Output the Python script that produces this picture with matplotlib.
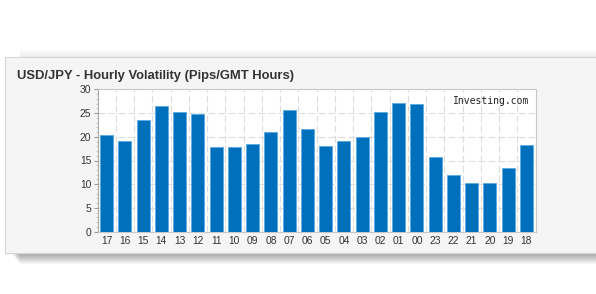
import matplotlib
matplotlib.use("Agg")
import matplotlib.pyplot as plt
from matplotlib.patches import Rectangle
import numpy as np

hours = ["17", "16", "15", "14", "13", "12", "11", "10", "09", "08", "07", "06",
         "05", "04", "03", "02", "01", "00", "23", "22", "21", "20", "19", "18"]
pips = [20.3, 19.2, 23.5, 26.4, 25.3, 24.9, 17.8, 17.8, 18.4, 20.9, 25.7, 21.6,
        18.0, 19.1, 19.9, 25.3, 27.2, 27.0, 15.7, 12.0, 10.3, 10.3, 13.4, 18.3]
yticks = [0, 5, 10, 15, 20, 25, 30]
title = "USD/JPY - Hourly Volatility (Pips/GMT Hours)"

W, H = 596, 294
fig = plt.figure(figsize=(W / 100, H / 100), dpi=100)
fig.patch.set_facecolor("white")

def fx(px):
    return px / W

def fy(py):
    return 1 - py / H

# card shadow below (blurred by stacking)
for i in range(12):
    off = i + 1
    fig.patches.append(Rectangle((fx(10 + off * 0.8), fy(252 + off)),
                                 fx(600) - fx(10 + off * 0.8),
                                 fy(70) - fy(252 + off), transform=fig.transFigure,
                                 facecolor="black", alpha=0.035, edgecolor="none", zorder=0))
# faint shadow above
for i in range(6):
    off = i + 1
    fig.patches.append(Rectangle((fx(20), fy(70)), fx(600) - fx(20),
                                 fy(57 - off * 1.2) - fy(70), transform=fig.transFigure,
                                 facecolor="black", alpha=0.012, edgecolor="none", zorder=0))
# card
fig.patches.append(Rectangle((fx(5), fy(253)), fx(600) - fx(5), fy(57) - fy(253),
                             transform=fig.transFigure, facecolor="#f5f5f5",
                             edgecolor="#d6d6d6", linewidth=0.8, zorder=1))

fig.text(fx(17), fy(76), title, fontsize=9.4, fontweight="bold", color="#333333",
         va="center", ha="left", family="Liberation Sans")

left, right, top, bottom = 97.5, 535.5, 89.3, 231.7
ax = fig.add_axes([fx(left), fy(bottom), fx(right) - fx(left), fy(top) - fy(bottom)])
ax.set_zorder(2)
ax.set_facecolor("white")

x = np.arange(len(hours))
ax.bar(x, pips, width=0.7, color="#0070bd", edgecolor="#5aa9e0", linewidth=0.6, zorder=3)
ax.set_xlim(-0.5, len(hours) - 0.5)
ax.set_ylim(0, 30)
ax.set_yticks(yticks)
ax.set_yticks(np.arange(0, 30.1, 1), minor=True)
ax.set_xticks(x)
ax.set_xticklabels(hours)

for yv in yticks[1:-1]:
    ax.axhline(yv, color="#dcdcdc", linestyle=(0, (6, 3)), linewidth=0.8, zorder=1)
for xv in np.arange(0.5, len(hours) - 1, 1):
    ax.axvline(xv, color="#dcdcdc", linestyle=(0, (6, 3)), linewidth=0.8, zorder=1)

for s in ax.spines.values():
    s.set_color("#c8c8c8")
    s.set_linewidth(0.8)
ax.spines["left"].set_color("#aaaaaa")

ax.tick_params(axis="x", which="both", length=0, labelsize=7.4, colors="#333333", pad=3)
ax.tick_params(axis="y", which="major", length=3, labelsize=7.4, colors="#333333",
               pad=1.5, color="#999999")
ax.tick_params(axis="y", which="minor", length=1.5, color="#bbbbbb")
for lab in ax.get_xticklabels() + ax.get_yticklabels():
    lab.set_family("Liberation Sans")
    lab.set_color("#333333")

ax.text(0.985, 0.95, "Investing.com", transform=ax.transAxes, ha="right", va="top",
        fontsize=7, family="DejaVu Sans Mono", color="#222222", zorder=5)

fig.savefig("out.png", dpi=100)
